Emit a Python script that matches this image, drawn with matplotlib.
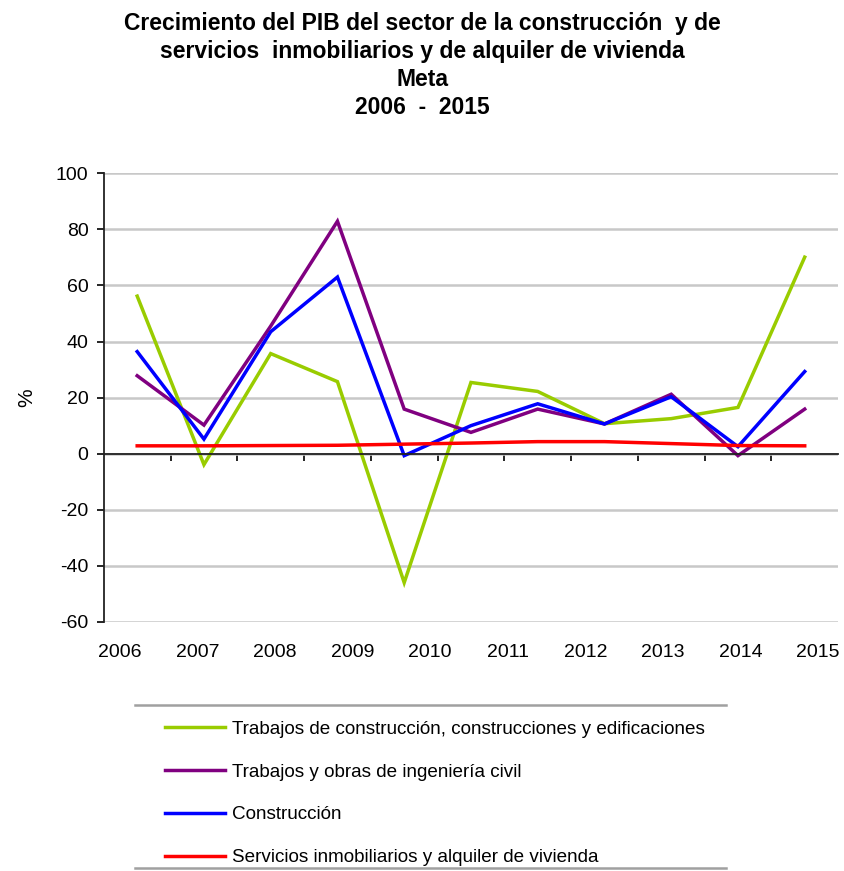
import numpy as np
import matplotlib
matplotlib.use('Agg')
from matplotlib import pyplot as plt
from matplotlib.lines import Line2D
from matplotlib import transforms

plt.rcParams['font.family'] = ['Liberation Sans', 'DejaVu Sans']
plt.rcParams['axes.unicode_minus'] = False

years = ['2006', '2007', '2008', '2009', '2010', '2011', '2012', '2013', '2014', '2015']

# 11 puntos por serie
edificaciones = [56.2, -3.9, 35.7, 25.7, -46.0, 25.4, 22.2, 10.7, 12.5, 16.5, 70.1]
ingenieria = [27.8, 10.2, 45.5, 82.9, 15.9, 7.6, 15.9, 10.6, 21.2, -0.7, 15.9]
construccion = [36.4, 5.2, 43.5, 63.0, -0.7, 10.0, 17.8, 10.6, 20.3, 2.5, 29.3]
inmobiliarios = [2.8, 2.8, 2.9, 3.0, 3.4, 3.8, 4.3, 4.3, 3.6, 2.9, 2.8]

series = [
    (edificaciones, '#99cc00', 'Trabajos de construcción, construcciones y edificaciones'),
    (ingenieria, '#800080', 'Trabajos y obras de ingeniería civil'),
    (construccion, '#0000ff', 'Construcción'),
    (inmobiliarios, '#ff0000', 'Servicios inmobiliarios y alquiler de vivienda'),
]

fig = plt.figure(figsize=(8.44, 8.71), dpi=100)
ax = fig.add_axes([0.123, 0.286, 0.870, 0.515])

x = np.arange(len(edificaciones))
for vals, color, label in series:
    ax.plot(x, vals, color=color, lw=2.5, label=label, solid_joinstyle='miter')

ax.set_xlim(-0.5, len(x) - 0.5)
ax.set_ylim(-60, 100)
ax.set_yticks(np.arange(-60, 101, 20))
ax.tick_params(axis='y', labelsize=14, direction='out', length=5, width=1.2, pad=6)
ax.yaxis.grid(True, color='#c8c8c8', lw=1.8)
ax.set_axisbelow(True)

ax.spines['top'].set_visible(False)
ax.spines['right'].set_visible(False)
ax.spines['left'].set_linewidth(1.3)
ax.spines['left'].set_color('#222222')
ax.spines['bottom'].set_position(('data', 0))
ax.spines['bottom'].set_linewidth(1.3)
ax.spines['bottom'].set_color('#222222')
ax.set_xticks(np.arange(0.5, len(x) - 1, 1.0))
ax.set_xticklabels([])
ax.tick_params(axis='x', direction='out', length=5, width=1.2)

# etiquetas de año repartidas bajo el eje
trans = transforms.blended_transform_factory(ax.transData, ax.transAxes)
for xpos, yr in zip(np.linspace(-0.26, 10.2, len(years)), years):
    ax.text(xpos, -0.068, yr, transform=trans, ha='center', va='center', fontsize=14)

ax.set_ylabel('%', fontsize=15, labelpad=14)

fig.text(0.5, 0.986, 'Crecimiento del PIB del sector de la construcción  y de\n'
         'servicios  inmobiliarios y de alquiler de vivienda\nMeta\n2006  -  2015',
         ha='center', va='top', fontsize=16.5, fontweight='bold', linespacing=1.27)

fig.legend(loc='upper left', bbox_to_anchor=(0.1955, 0.1725), frameon=False,
           fontsize=13.6, handlelength=3.2, handletextpad=0.37, labelspacing=1.35,
           borderaxespad=0, borderpad=0)
for yline in (0.191, 0.004):
    fig.add_artist(Line2D([0.16, 0.86], [yline, yline], color='#a0a0a0', lw=1.8,
                          transform=fig.transFigure))

fig.savefig('out.png', dpi=100)
